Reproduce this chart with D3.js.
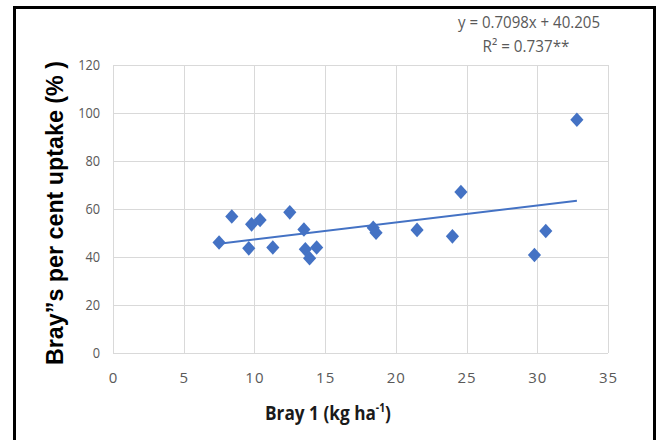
<!DOCTYPE html>
<html><head><meta charset="utf-8">
<script src="https://cdn.jsdelivr.net/npm/d3@7"></script>
<style>html,body{margin:0;padding:0;background:#fff;}</style>
</head><body>
<svg id="c" width="660" height="440"></svg>
<script>
const xValues = [7.5, 8.4, 9.6, 9.8, 10.4, 11.3, 12.5, 13.5, 13.6, 13.9, 14.4, 18.4, 18.6, 21.5, 24.0, 24.6, 29.8, 30.6, 32.8];
const yValues = [46.0, 56.9, 43.6, 53.6, 55.4, 44.0, 58.6, 51.5, 43.2, 39.5, 44.0, 52.2, 50.1, 51.3, 48.6, 67.1, 40.8, 50.8, 97.2];
const xTicks = [0, 5, 10, 15, 20, 25, 30, 35];
const yTicks = [0, 20, 40, 60, 80, 100, 120];
const slope = 0.7098, intercept = 40.205;
const eqText = "y = 0.7098x + 40.205";
const r2Text = "R² = 0.737**";

const svg = d3.select("#c");
const x = d3.scaleLinear().domain([0, 35]).range([113, 608]);
const y = d3.scaleLinear().domain([0, 120]).range([353, 65]);
const FONT = "'Open Sans',sans-serif";

function fitWidth(sel, target, cx) {
  const w = sel.node().getBBox().width;
  const s = target / w;
  sel.attr("transform", `translate(${cx},0) scale(${s},1) translate(${-cx},0)`);
}

// outer frame
svg.append("rect").attr("x", 14.5).attr("y", 7.5).attr("width", 640).attr("height", 440)
  .attr("fill", "none").attr("stroke", "#000").attr("stroke-width", 3);

// gridlines
svg.append("g").selectAll("line").data(yTicks).join("line")
  .attr("x1", x(0)).attr("x2", x(35)).attr("y1", d => Math.round(y(d)) + 0.5).attr("y2", d => Math.round(y(d)) + 0.5)
  .attr("stroke", "#d9d9d9").attr("stroke-width", 1);
svg.append("g").selectAll("line").data(xTicks).join("line")
  .attr("y1", y(0)).attr("y2", y(120)).attr("x1", d => Math.round(x(d)) + 0.5).attr("x2", d => Math.round(x(d)) + 0.5)
  .attr("stroke", "#d9d9d9").attr("stroke-width", 1);

// axes
const yAxis = svg.append("g").attr("transform", `translate(${x(0)},0)`)
  .call(d3.axisLeft(y).tickValues(yTicks).tickSize(0).tickPadding(13));
yAxis.select(".domain").remove();
yAxis.selectAll("text").attr("fill", "#595959").attr("font-size", 15)
  .attr("font-family", FONT)
  .attr("transform", "translate(-13,0) scale(0.85,1) translate(13,0)");

const xAxis = svg.append("g").attr("transform", `translate(0,${y(0)})`)
  .call(d3.axisBottom(x).tickValues(xTicks).tickSize(0).tickPadding(19));
xAxis.select(".domain").remove();
xAxis.selectAll("text").attr("fill", "#595959").attr("font-size", 15)
  .attr("letter-spacing", "1px")
  .attr("font-family", FONT);

// trend line
const xMin = d3.min(xValues), xMax = d3.max(xValues);
svg.append("line")
  .attr("x1", x(xMin)).attr("y1", y(slope * xMin + intercept))
  .attr("x2", x(xMax)).attr("y2", y(slope * xMax + intercept))
  .attr("stroke", "#4472C4").attr("stroke-width", 2);

// points (diamonds)
const sym = d3.symbol().type(d3.symbolSquare).size(96);
svg.append("g").selectAll("path").data(xValues.map((v, i) => [v, yValues[i]])).join("path")
  .attr("d", sym)
  .attr("transform", d => `translate(${x(d[0])},${y(d[1])}) scale(0.95,1.05) rotate(45)`)
  .attr("fill", "#4472C4");

// equation
const eq = svg.append("text").attr("x", 529).attr("y", 28).attr("text-anchor", "middle")
  .attr("fill", "#595959").attr("font-size", 16).attr("font-family", FONT)
  .text(eqText);
fitWidth(eq, 142, 529);
const r2 = svg.append("text").attr("x", 526).attr("y", 52).attr("text-anchor", "middle")
  .attr("fill", "#595959").attr("font-size", 16).attr("font-family", FONT)
  .text(r2Text);
fitWidth(r2, 87, 526);

// y axis title
svg.append("text").attr("transform", "translate(63,213) rotate(-90)")
  .attr("text-anchor", "middle").attr("font-size", 23).attr("font-weight", "bold")
  .attr("font-family", "'Liberation Sans',Arial,sans-serif").attr("fill", "#000")
  .attr("textLength", 304).attr("lengthAdjust", "spacingAndGlyphs")
  .text("Bray”s per cent uptake (% )");

// x axis title
const xt = svg.append("text").attr("x", 328).attr("y", 420).attr("text-anchor", "middle")
  .attr("font-size", 20).attr("font-weight", "bold").attr("fill", "#1a1a1a")
  .attr("font-family", FONT);
xt.append("tspan").text("Bray 1 (kg ha");
xt.append("tspan").attr("font-size", 12).attr("dy", -8).text("-1");
xt.append("tspan").attr("dy", 8).text(")");
fitWidth(xt, 126, 328);
</script>
</body></html>
